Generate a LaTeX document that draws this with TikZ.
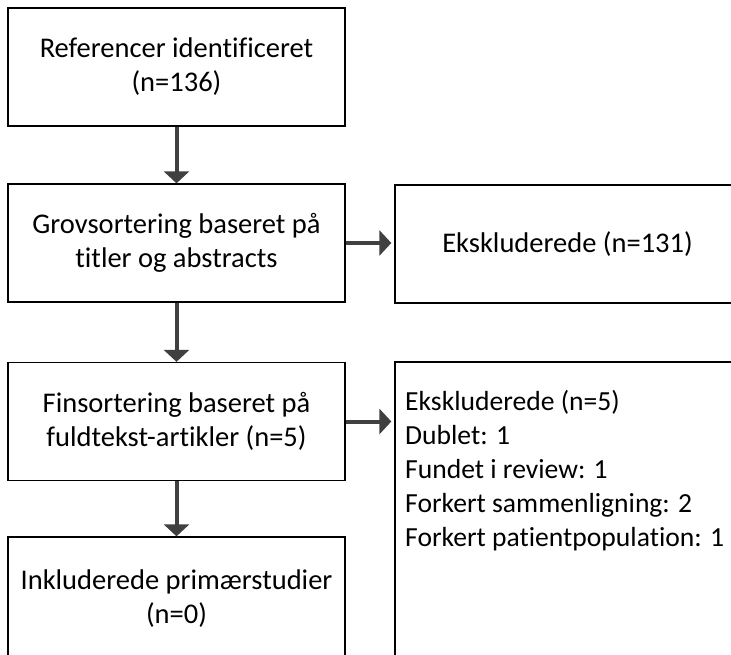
\documentclass[tikz,border=0pt]{standalone}
\usepackage{fontspec}
\setmainfont{Carlito}[Ligatures={NoCommon,NoRequired,NoContextual}]
\usetikzlibrary{arrows.meta}
\begin{document}
\begin{tikzpicture}[x=1pt,y=-1pt,
  box/.style={draw=black,line width=1.3pt,rectangle,inner sep=0pt,align=center,
    font=\fontsize{28.5}{34}\selectfont},
  flow/.style={draw=black!75,line width=4pt,-{Triangle[width=25pt,length=12pt]}},
  txt/.style={inner sep=0pt,align=left,anchor=north west,font=\fontsize{27.6}{34}\selectfont}]
\useasboundingbox (0,0) rectangle (731,655);
\clip (0,0) rectangle (731,655);
\node[box,minimum width=337pt,minimum height=118pt] (a) at (176.5,67) {Referencer identificeret\\(n=136)};
\node[box,minimum width=337pt,minimum height=118pt] (b) at (176.5,243) {Grovsortering baseret på\\titler og abstracts};
\node[box,minimum width=337pt,minimum height=118pt] (c) at (176.5,421.5) {Finsortering baseret på\\fuldtekst-artikler (n=5)};
\node[box,minimum width=337pt,minimum height=124pt] (d) at (176.5,599) {Inkluderede primærstudier\\(n=0)};
\node[box,minimum width=345pt,minimum height=118pt] (e1) at (567.5,244) {Ekskluderede (n=131)};
\node[box,minimum width=345pt,minimum height=300pt] (e2) at (567.5,512) {};
\node[txt] (e2t) at (405,390) {Ekskluderede (n=5)\\Dublet: 1\\Fundet i review: 1\\Forkert sammenligning: 2\\Forkert patientpopulation: 1};
\draw[flow] (a.south) -- (b.north);
\draw[flow] (b.south) -- (c.north);
\draw[flow] (c.south) -- (d.north);
\draw[flow,shorten >=3pt] (b.east) -- (b.east -| e1.west);
\draw[flow,shorten >=3pt] (c.east) -- (c.east -| e2.west);
\end{tikzpicture}
\end{document}
